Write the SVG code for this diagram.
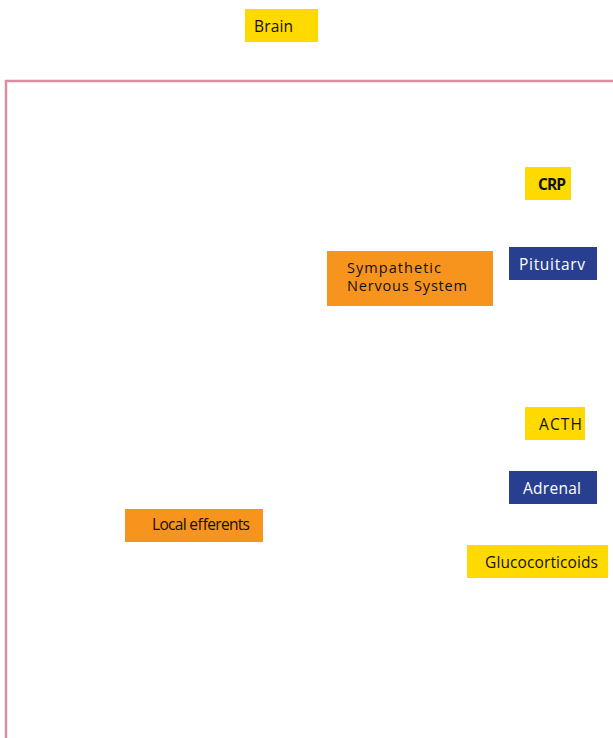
<svg xmlns="http://www.w3.org/2000/svg" width="613" height="738" viewBox="0 0 613 738">
<style>
.t{font-family:"Comic Sans MS","Open Sans","DejaVu Sans",sans-serif;font-size:15.5px;fill:#111}
.s{font-size:14.5px}
.w{fill:#fff}
.y{fill:#FFDA00}
.o{fill:#F7941E}
.b{fill:#283F8F}
</style>
<rect width="613" height="738" fill="#fff"/>
<g id="connectors">
<polyline points="613,81 6,81 6,738" fill="none" stroke="#D98FA0" stroke-width="2.5"/>
</g>
<g id="brain"><rect class="y" x="245" y="9" width="73" height="33"/><text class="t" x="254" y="32" textLength="39">Brain</text></g>
<g id="crp"><rect class="y" x="525" y="167" width="46" height="33"/><text class="t" x="538" y="190" font-weight="bold" textLength="28">CRP</text></g>
<g id="pituitary"><rect class="b" x="509" y="247" width="88" height="33"/><text class="t w" x="519" y="270" textLength="66">Pituitarv</text></g>
<g id="sns"><rect class="o" x="327" y="251" width="166" height="55"/><text class="t s" x="347" y="273" textLength="94">Sympathetic</text><text class="t s" x="347" y="291" textLength="120">Nervous System</text></g>
<g id="acth"><rect class="y" x="525" y="407" width="60" height="33"/><text class="t" x="539" y="430" textLength="43">ACTH</text></g>
<g id="adrenal"><rect class="b" x="509" y="471" width="88" height="33"/><text class="t w" x="523" y="494" textLength="58">Adrenal</text></g>
<g id="local"><rect class="o" x="125" y="509" width="138" height="33"/><text class="t" x="152" y="530" font-size="13" textLength="98">Local efferents</text></g>
<g id="gluco"><rect class="y" x="467" y="545" width="141" height="33"/><text class="t" x="485" y="568" textLength="113">Glucocorticoids</text></g>
</svg>
